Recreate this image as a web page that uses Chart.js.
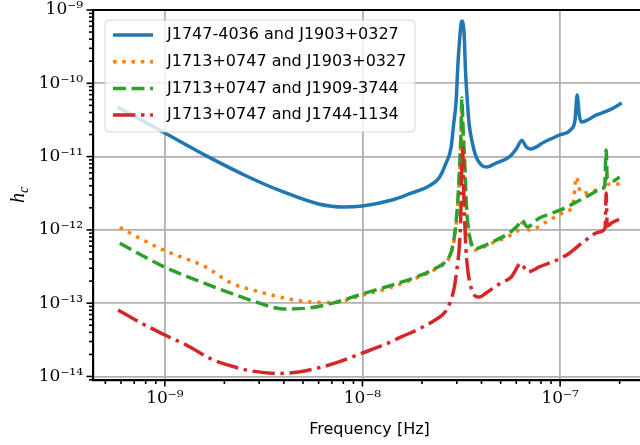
<!DOCTYPE html>
<html>
<head>
<meta charset="utf-8">
<script src="https://cdn.jsdelivr.net/npm/chart.js@4"></script>
<style>
  html, body { margin: 0; padding: 0; background: #fff; overflow: hidden; }
  #wrap { width: 660px; height: 445px; }
</style>
</head>
<body>
<div id="wrap"><canvas id="chart" width="660" height="445"></canvas></div>
<script>
// series (frequency in Hz, characteristic strain h_c)
const blueFreq = [5.73e-10, 7.76e-10, 1.0e-9, 1.66e-9, 2.65e-9, 3.98e-9, 6.0e-9, 8.04e-9, 1.0e-8, 1.41e-8,
  1.72e-8, 2.17e-8, 2.44e-8, 2.65e-8, 2.81e-8, 2.89e-8, 2.98e-8, 3.03e-8, 3.10e-8, 3.18e-8,
  3.27e-8, 3.32e-8, 3.39e-8, 3.47e-8, 3.59e-8, 3.76e-8, 3.99e-8, 4.28e-8, 4.75e-8, 5.53e-8,
  6.0e-8, 6.40e-8, 6.75e-8, 7.07e-8, 8.31e-8, 9.9e-8, 1.14e-7, 1.19e-7, 1.22e-7, 1.25e-7,
  1.28e-7, 1.53e-7, 1.78e-7, 2.05e-7];
const blueHc = [4.75e-11, 3.06e-11, 2.10e-11, 9.9e-12, 5.27e-12, 3.29e-12, 2.26e-12, 2.05e-12, 2.12e-12, 2.56e-12,
  3.09e-12, 3.97e-12, 5.1e-12, 8.18e-12, 1.35e-11, 2.70e-11, 5.91e-11, 1.52e-10, 3.90e-10, 7.08e-10,
  4.56e-10, 1.52e-10, 5.91e-11, 2.70e-11, 1.58e-11, 9.9e-12, 7.68e-12, 7.21e-12, 8.18e-12, 9.9e-12,
  1.27e-11, 1.66e-11, 1.35e-11, 1.27e-11, 1.58e-11, 1.97e-11, 2.38e-11, 3.16e-11, 6.92e-11, 3.70e-11,
  2.97e-11, 3.70e-11, 4.33e-11, 5.38e-11];

const orangeFreq = [5.92e-10, 7.76e-10, 1.0e-9, 1.26e-9, 1.60e-9, 2.18e-9, 2.98e-9, 4.06e-9, 5.34e-9, 7.15e-9,
  1.0e-8, 1.31e-8, 1.93e-8, 2.36e-8, 2.65e-8, 2.81e-8, 2.91e-8, 3.00e-8, 3.07e-8, 3.12e-8,
  3.16e-8, 3.18e-8, 3.23e-8, 3.29e-8, 3.34e-8, 3.42e-8, 3.55e-8, 3.72e-8, 3.99e-8, 4.65e-8,
  5.53e-8, 6.21e-8, 6.41e-8, 6.98e-8, 8.53e-8, 1.03e-7, 1.16e-7, 1.21e-7, 1.24e-7, 1.28e-7,
  1.44e-7, 1.62e-7, 1.70e-7, 1.71e-7, 1.74e-7, 2.0e-7];
const orangeHc = [1.08e-12, 7.28e-13, 5.20e-13, 4.10e-13, 3.15e-13, 1.87e-13, 1.44e-13, 1.17e-13, 1.04e-13, 1.02e-13,
  1.29e-13, 1.56e-13, 2.28e-13, 2.93e-13, 3.65e-13, 4.84e-13, 7.28e-13, 1.45e-12, 3.50e-12, 9.0e-12,
  2.31e-11, 4.60e-11, 1.97e-11, 7.68e-12, 2.56e-12, 1.06e-12, 6.22e-13, 5.32e-13, 5.66e-13, 6.84e-13,
  8.26e-13, 1.03e-12, 1.24e-12, 9.98e-13, 1.28e-12, 1.70e-12, 2.19e-12, 5.27e-12, 3.97e-12, 3.19e-12,
  3.29e-12, 3.73e-12, 4.10e-12, 6.98e-12, 4.23e-12, 4.23e-12];

const greenFreq = [5.92e-10, 7.76e-10, 1.0e-9, 1.48e-9, 2.17e-9, 2.98e-9, 3.98e-9, 5.34e-9, 7.15e-9, 1.0e-8,
  1.31e-8, 1.93e-8, 2.36e-8, 2.65e-8, 2.81e-8, 2.91e-8, 3.00e-8, 3.07e-8, 3.12e-8, 3.16e-8,
  3.18e-8, 3.23e-8, 3.29e-8, 3.34e-8, 3.42e-8, 3.55e-8, 3.72e-8, 3.99e-8, 4.65e-8, 5.53e-8,
  6.07e-8, 6.41e-8, 6.82e-8, 7.85e-8, 9.14e-8, 1.08e-7, 1.21e-7, 1.41e-7, 1.58e-7, 1.68e-7,
  1.71e-7, 1.73e-7, 1.85e-7, 2.0e-7];
const greenHc = [6.56e-13, 4.41e-13, 3.09e-13, 2.01e-13, 1.36e-13, 1.01e-13, 8.34e-14, 8.59e-14, 1.01e-13, 1.34e-13,
  1.66e-13, 2.35e-13, 3.02e-13, 3.77e-13, 4.99e-13, 7.74e-13, 1.60e-12, 4.10e-12, 1.05e-11, 2.70e-11,
  6.29e-11, 2.31e-11, 8.44e-12, 2.81e-12, 1.17e-12, 6.62e-13, 5.48e-13, 5.85e-13, 7.06e-13, 9.08e-13,
  1.13e-12, 1.36e-12, 1.10e-12, 1.45e-12, 1.70e-12, 2.05e-12, 2.40e-12, 2.99e-12, 3.50e-12, 3.97e-12,
  1.23e-11, 5.10e-12, 4.65e-12, 5.27e-12];

const redFreq = [5.80e-10, 7.76e-10, 1.0e-9, 1.31e-9, 1.72e-9, 2.17e-9, 2.74e-9, 3.76e-9, 4.75e-9, 6.0e-9,
  7.59e-9, 1.0e-8, 1.28e-8, 1.58e-8, 1.93e-8, 2.33e-8, 2.62e-8, 2.77e-8, 2.91e-8, 3.01e-8,
  3.08e-8, 3.14e-8, 3.17e-8, 3.21e-8, 3.24e-8, 3.29e-8, 3.34e-8, 3.42e-8, 3.55e-8, 3.72e-8,
  3.89e-8, 4.22e-8, 4.92e-8, 5.66e-8, 6.34e-8, 6.82e-8, 7.85e-8, 1.08e-7, 1.33e-7, 1.58e-7,
  1.69e-7, 1.71e-7, 1.73e-7, 1.82e-7, 2.0e-7];
const redHc = [8.07e-14, 5.20e-14, 3.68e-14, 2.61e-14, 1.73e-14, 1.39e-14, 1.19e-14, 1.10e-14, 1.15e-14, 1.31e-14,
  1.58e-14, 2.09e-14, 2.69e-14, 3.49e-14, 4.45e-14, 5.90e-14, 7.59e-14, 1.01e-13, 1.61e-13, 3.02e-13,
  5.32e-13, 1.36e-12, 4.80e-12, 1.31e-11, 4.80e-12, 1.36e-12, 5.32e-13, 2.67e-13, 1.61e-13, 1.25e-13,
  1.21e-13, 1.38e-13, 1.83e-13, 2.28e-13, 3.50e-13, 2.67e-13, 3.12e-13, 4.55e-13, 7.06e-13, 9.35e-13,
  1.06e-12, 3.19e-12, 1.13e-12, 1.24e-12, 1.41e-12];

const seriesLabels = [
  "J1747-4036 and J1903+0327",
  "J1713+0747 and J1903+0327",
  "J1713+0747 and J1909-3744",
  "J1713+0747 and J1744-1134",
];

const xTickValues = [1e-9, 1e-8, 1e-7];
const xTickLabels = ["10⁻⁹", "10⁻⁸", "10⁻⁷"];
const yTickValues = [1e-14, 1e-13, 1e-12, 1e-11, 1e-10, 1e-9];
const yTickLabels = ["10⁻¹⁴", "10⁻¹³", "10⁻¹²", "10⁻¹¹", "10⁻¹⁰", "10⁻⁹"];

const xMin = 4.33e-10, xMax = 2.72e-7;
const yMin = 8.95e-15, yMax = 1e-9;

function pairs(xs, ys) {
  return xs.map((x, i) => ({ x: x, y: ys[i] }));
}

// every 1..9 x 10^n inside the range, powers of ten flagged as major
function logTicks(min, max) {
  const out = [];
  for (let e = Math.floor(Math.log10(min)); e <= Math.ceil(Math.log10(max)); e++) {
    for (let m = 1; m <= 9; m++) {
      const v = m * Math.pow(10, e);
      if (v >= min && v <= max * 1.0001) out.push({ value: v, major: m === 1 });
    }
  }
  return out;
}

function tickLabel(values, labels, v) {
  const i = values.findIndex(t => Math.abs(Math.log10(t) - Math.log10(v)) < 1e-6);
  return i >= 0 ? labels[i] : "";
}

const decor = {
  id: "decor",
  afterDatasetsDraw(chart) {
    const { ctx, chartArea: a, scales } = chart;
    ctx.save();

    // outward tick marks, long on decades, short on minor
    ctx.strokeStyle = "#000";
    ctx.lineWidth = 1.6;
    scales.x.ticks.forEach(t => {
      const px = scales.x.getPixelForValue(t.value);
      const len = t.major ? 6.5 : 4;
      ctx.beginPath();
      ctx.moveTo(px, a.bottom);
      ctx.lineTo(px, a.bottom + len);
      ctx.stroke();
    });
    scales.y.ticks.forEach(t => {
      const py = scales.y.getPixelForValue(t.value);
      const len = t.major ? 6.5 : 4;
      ctx.beginPath();
      ctx.moveTo(a.left, py);
      ctx.lineTo(a.left - len, py);
      ctx.stroke();
    });

    // top spine
    ctx.lineWidth = 2.2;
    ctx.beginPath();
    ctx.moveTo(a.left - 1, a.top);
    ctx.lineTo(a.right, a.top);
    ctx.stroke();

    // y label h_c
    ctx.translate(18, (a.top + a.bottom) / 2);
    ctx.rotate(-Math.PI / 2);
    ctx.fillStyle = "#000";
    ctx.textBaseline = "alphabetic";
    ctx.font = "italic 20px 'Liberation Serif'";
    const wh = ctx.measureText("h").width;
    ctx.font = "italic 14px 'Liberation Serif'";
    const wc = ctx.measureText("c").width;
    const x0 = -(wh + wc) / 2;
    ctx.font = "italic 20px 'Liberation Serif'";
    ctx.fillText("h", x0, 6);
    ctx.font = "italic 14px 'Liberation Serif'";
    ctx.fillText("c", x0 + wh, 10);
    ctx.restore();

    // legend box inside the axes
    ctx.save();
    const lx = a.left + 12, ly = a.top + 10, lw = 310, lh = 112;
    ctx.beginPath();
    ctx.roundRect(lx, ly, lw, lh, 4);
    ctx.fillStyle = "rgba(255,255,255,0.8)";
    ctx.fill();
    ctx.strokeStyle = "rgba(204,204,204,0.8)";
    ctx.lineWidth = 1;
    ctx.stroke();
    chart.data.datasets.forEach((ds, i) => {
      const cy = ly + 15 + i * 26.7;
      ctx.beginPath();
      ctx.strokeStyle = ds.borderColor;
      ctx.lineWidth = ds.borderWidth;
      ctx.lineCap = "butt";
      ctx.setLineDash(ds.borderDash || []);
      ctx.moveTo(lx + 8, cy);
      ctx.lineTo(lx + 48, cy);
      ctx.stroke();
      ctx.setLineDash([]);
      ctx.fillStyle = "#000";
      ctx.font = "16px 'DejaVu Sans'";
      ctx.textBaseline = "middle";
      ctx.fillText(ds.label, lx + 62, cy);
    });
    ctx.restore();
  }
};

const lw = 3.5;

new Chart(document.getElementById("chart"), {
  type: "line",
  data: {
    datasets: [
      { label: seriesLabels[0], data: pairs(blueFreq, blueHc), borderColor: "#1f77b4", borderWidth: lw, order: 3 },
      { label: seriesLabels[1], data: pairs(orangeFreq, orangeHc), borderColor: "#ff7f0e", borderWidth: lw,
        borderDash: [1 * lw, 1.65 * lw], order: 2 },
      { label: seriesLabels[2], data: pairs(greenFreq, greenHc), borderColor: "#2ca02c", borderWidth: lw,
        borderDash: [3.7 * lw, 1.6 * lw], order: 1 },
      { label: seriesLabels[3], data: pairs(redFreq, redHc), borderColor: "#d62728", borderWidth: lw,
        borderDash: [6.4 * lw, 1.6 * lw, 1 * lw, 1.6 * lw], order: 0 },
    ],
  },
  options: {
    responsive: false,
    animation: false,
    layout: { padding: { top: 0, right: 14, left: 0, bottom: 0 } },
    elements: {
      point: { radius: 0 },
      line: { cubicInterpolationMode: "monotone", borderJoinStyle: "round", borderCapStyle: "butt" },
    },
    plugins: { legend: { display: false }, tooltip: { enabled: false } },
    scales: {
      x: {
        type: "logarithmic",
        min: xMin,
        max: xMax,
        afterBuildTicks: s => { s.ticks = logTicks(xMin, xMax); },
        afterFit: s => { s.height = 65; s.paddingLeft = 0; s.paddingRight = 0; },
        grid: {
          color: c => (c.tick && c.tick.major ? "#b0b0b0" : "rgba(0,0,0,0)"),
          lineWidth: 1.8,
          drawTicks: false,
        },
        border: { display: true, color: "#000", width: 2.2 },
        ticks: {
          autoSkip: false,
          maxRotation: 0,
          padding: 8,
          color: "#000",
          font: { family: "'DejaVu Serif'", size: 17 },
          callback: v => tickLabel(xTickValues, xTickLabels, v),
        },
        title: {
          display: true,
          text: "Frequency [Hz]",
          color: "#000",
          font: { family: "'DejaVu Sans'", size: 16 },
          padding: { top: 0, bottom: 6 },
        },
      },
      y: {
        type: "logarithmic",
        min: yMin,
        max: yMax,
        afterBuildTicks: s => { s.ticks = logTicks(yMin, yMax); },
        afterFit: s => { s.width = 93; s.paddingTop = 10; s.paddingBottom = 0; },
        grid: {
          color: c => (c.tick && c.tick.major ? "#b0b0b0" : "rgba(0,0,0,0)"),
          lineWidth: 1.8,
          drawTicks: false,
        },
        border: { display: true, color: "#000", width: 2.2 },
        ticks: {
          autoSkip: false,
          padding: 10,
          color: "#000",
          font: { family: "'DejaVu Serif'", size: 17 },
          callback: v => tickLabel(yTickValues, yTickLabels, v),
        },
      },
    },
  },
  plugins: [decor],
});
</script>
</body>
</html>
